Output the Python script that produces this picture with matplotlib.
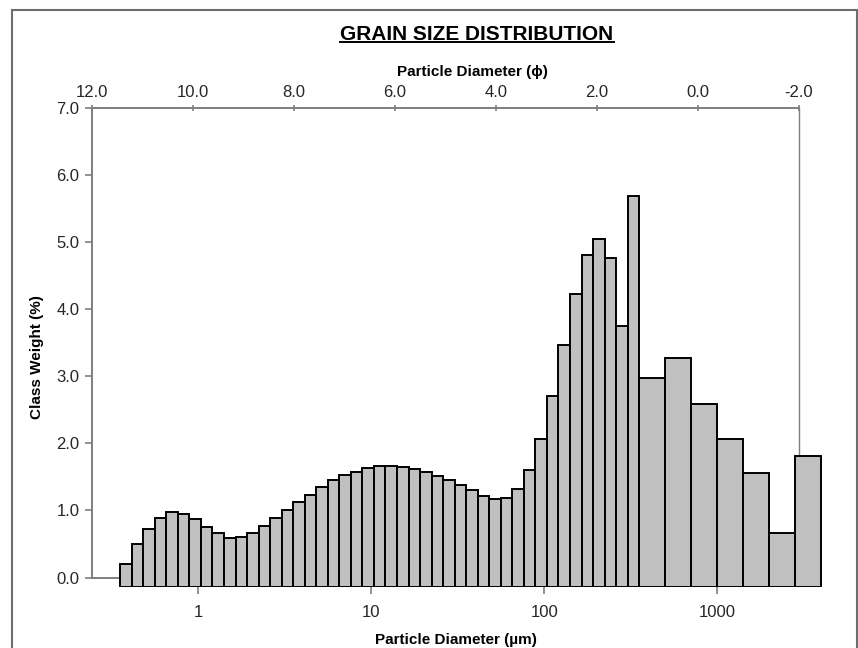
"""Grain size distribution histogram (µm bins with a phi scale on top)."""

import matplotlib

matplotlib.use("Agg")

import matplotlib.pyplot as plt
import numpy as np
from matplotlib.lines import Line2D
from matplotlib.patches import Rectangle

# --- data ---------------------------------------------------------------
# bin edges in µm: laser bins (15 per decade) up to 354 µm, then half-phi sieves
BIN_EDGES_UM = [
    0.354, 0.413, 0.481, 0.561, 0.654, 0.763, 0.889, 1.037, 1.209, 1.409,
    1.643, 1.916, 2.234, 2.604, 3.036, 3.54, 4.13, 4.81, 5.61, 6.54,
    7.63, 8.89, 10.37, 12.09, 14.09, 16.43, 19.16, 22.34, 26.04, 30.36,
    35.4, 41.3, 48.1, 56.1, 65.4, 76.3, 88.9, 103.7, 120.9, 140.9,
    164.3, 191.6, 223.4, 260.4, 303.6, 354.0,
    500.0, 707.0, 1000.0, 1414.0, 2000.0, 2828.0, 4000.0,
]
CLASS_WEIGHT = [
    0.20, 0.50, 0.73, 0.89, 0.97, 0.95, 0.87, 0.76, 0.66, 0.59,
    0.60, 0.67, 0.77, 0.89, 1.01, 1.12, 1.23, 1.35, 1.45, 1.53,
    1.58, 1.63, 1.66, 1.66, 1.65, 1.62, 1.58, 1.52, 1.45, 1.38,
    1.31, 1.22, 1.17, 1.18, 1.32, 1.60, 2.06, 2.71, 3.46, 4.22,
    4.81, 5.04, 4.76, 3.75, 5.69,
    2.98, 3.27, 2.59, 2.06, 1.56, 0.66, 1.81,
]
PHI_TICKS = [12.0, 10.0, 8.0, 6.0, 4.0, 2.0, 0.0, -2.0]
UM_TICKS = [1, 10, 100, 1000]
UM_TICK_LABELS = ["1", "10", "100", "1000"]
Y_TICKS = [0.0, 1.0, 2.0, 3.0, 4.0, 5.0, 6.0, 7.0]

# --- layout (pixels of the 858 x 648 canvas) -----------------------------
W, H = 858, 648
FONT = ["Liberation Sans", "DejaVu Sans"]
SPINE = "#7f7f7f"
TICK_TXT = "#262626"
TICK_SIZE = 12
BAR_BASE = -0.142  # bars sit a little below the zero line


def fx(px):
    return px / W


def fy(py):
    return 1 - py / H


plt.rcParams["font.family"] = FONT

fig = plt.figure(figsize=(W / 100, H / 100), dpi=100)

# outer frame
fig.add_artist(Rectangle((fx(12), -0.02), fx(857) - fx(12), fy(10) + 0.02,
                         transform=fig.transFigure, fill=False,
                         edgecolor="#6e6e6e", linewidth=1.5))

# main axes: class weight vs phi
ax = fig.add_axes([fx(92), fy(577.5), fx(799) - fx(92), fy(108) - fy(577.5)])
ax.set_xlim(12, -2)
ax.set_ylim(0, 7)
ax.xaxis.tick_top()
ax.set_xticks(PHI_TICKS)
ax.set_xticklabels([f"{t:.1f}" for t in PHI_TICKS])
ax.set_yticks(Y_TICKS)
ax.set_yticklabels([f"{t:.1f}" for t in Y_TICKS])
ax.tick_params(axis="x", direction="inout", length=5, width=1.2, color=SPINE,
               pad=3, labelsize=TICK_SIZE, labelcolor=TICK_TXT)
ax.tick_params(axis="y", direction="out", length=5, width=1.2, color=SPINE,
               pad=4, labelsize=TICK_SIZE, labelcolor=TICK_TXT)
for side, sp in ax.spines.items():
    sp.set_color(SPINE)
    sp.set_linewidth(1.0 if side == "right" else 1.4)

# bar axes: log µm scale, overlaid
bx = fig.add_axes([fx(92), fy(587), fx(830) - fx(92), fy(108) - fy(587)])
bx.set_facecolor("none")
bx.set_xscale("log")
bx.set_xlim(10 ** ((92 - 198.2) / 173), 10 ** ((830 - 198.2) / 173))
bx.set_ylim(BAR_BASE, 7)

edges = np.array(BIN_EDGES_UM)
heights = np.array(CLASS_WEIGHT)
bx.bar(edges[:-1], heights - BAR_BASE, width=np.diff(edges), bottom=BAR_BASE,
       align="edge", color="#c0c0c0", edgecolor="black", linewidth=1.4)

bx.set_xticks(UM_TICKS)
bx.set_xticklabels(UM_TICK_LABELS)
bx.xaxis.set_minor_locator(matplotlib.ticker.NullLocator())
bx.set_yticks([])
bx.tick_params(axis="x", direction="out", length=5, width=1.2, color=SPINE,
               pad=8, labelsize=TICK_SIZE, labelcolor=TICK_TXT)
for sp in bx.spines.values():
    sp.set_visible(False)

# labels
title = fig.text(fx(477), fy(34), "GRAIN SIZE DISTRIBUTION", ha="center",
                 va="center", fontsize=15, fontweight="bold")
fig.text(fx(472), fy(72), "Particle Diameter (\u03d5)", ha="center",
         va="center", fontsize=11, fontweight="bold")
fig.text(fx(456), fy(640), "Particle Diameter (\u00b5m)", ha="center",
         va="center", fontsize=11, fontweight="bold")
fig.text(fx(37), fy(357), "Class Weight (%)", ha="center", va="center",
         rotation=90, fontsize=11, fontweight="bold")

# underline the title
fig.canvas.draw()
bb = title.get_window_extent().transformed(fig.transFigure.inverted())
fig.add_artist(Line2D([bb.x0, bb.x1], [bb.y0 + 0.002, bb.y0 + 0.002],
                      transform=fig.transFigure, color="black", linewidth=1.4))

fig.savefig("out.png", dpi=100)
